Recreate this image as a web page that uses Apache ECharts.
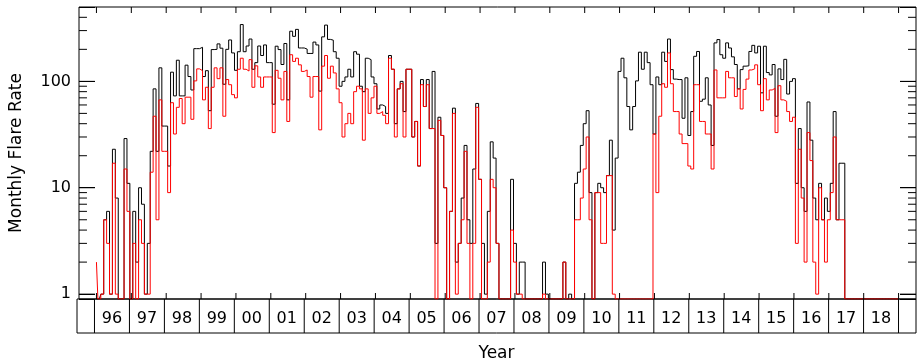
<!DOCTYPE html>
<html><head><meta charset="utf-8">
<script src="https://cdn.jsdelivr.net/npm/echarts@6/dist/echarts.min.js"></script>
<style>html,body{margin:0;padding:0;background:#fff}#c{width:918px;height:364px}</style>
</head><body><div id="c"></div>
<script>
// ---- data (monthly values, Jan 1996 onward) ----
const START_YEAR = 1996;
const X_MIN = 1995.5, X_MAX = 2019.5;
const Y_MIN = 0.9, Y_MAX = 500;

const yearTicks = [1996,1997,1998,1999,2000,2001,2002,2003,2004,2005,2006,2007,2008,2009,2010,2011,2012,2013,2014,2015,2016,2017,2018,2019];
const yearLabels = ['96','97','98','99','00','01','02','03','04','05','06','07','08','09','10','11','12','13','14','15','16','17','18'];
const yMajorTicks = [1,10,100];
const yMinorTicks = [2,3,4,5,6,7,8,9,20,30,40,50,60,70,80,90,200,300,400];

const blackRate = [
  0,0,1,5,6,1,23,8,0,0,29,11,
  0,6,2,10,7,1,3,22,85,22,134,38,
  38,16,122,73,158,73,73,142,111,83,203,203,
  209,111,126,53,199,200,225,205,94,200,245,185,
  127,190,342,190,215,250,130,150,215,175,220,150,
  150,61,214,199,144,227,67,296,265,308,206,206,
  201,183,183,234,220,81,262,338,248,244,190,165,
  90,100,110,130,110,190,180,90,80,165,160,110,
  95,55,60,58,50,175,130,40,85,100,52,130,
  130,30,42,16,104,58,104,36,124,3,46,31,
  10,0,6,56,2,3,8,25,5,3,15,62,
  12,3,1,6,27,19,3,0,0,0,0,12,
  3,1,2,2,0,0,0,0,0,0,2,1,
  0,0,0,0,0,2,0,1,0,11,14,25,
  40,53,9,0,9,11,10,9,13,28,4,19,
  124,165,108,58,35,58,101,188,130,188,150,93,
  32,110,93,188,154,250,129,105,104,104,45,108,
  31,52,172,191,65,68,108,60,25,230,247,178,
  165,230,206,170,144,85,129,139,140,191,218,185,
  214,78,214,121,115,144,47,131,104,161,76,100,
  106,11,36,10,6,64,28,8,5,11,5,8,
  6,11,52,5,17,17,0,0,0,0,0,0,
  0,0,0,0,0,0,0,0,0,0,0,0,
  0
];
const redRate = [
  2,0,1,5,3,1,17,1,0,0,15,6,
  0,3,0,5,3,1,1,14,47,5,67,22,
  22,9,63,32,57,69,40,71,71,44,101,131,
  126,67,88,36,88,134,106,134,47,104,93,75,
  70,130,165,130,125,160,88,140,110,88,110,110,
  110,33,127,107,67,124,42,178,154,165,143,124,
  128,111,71,111,111,35,139,175,107,139,120,85,
  63,30,40,50,40,80,90,85,28,85,50,70,
  90,50,52,48,40,165,130,30,85,95,30,130,
  130,30,42,16,93,58,93,36,36,0,43,31,
  10,0,6,50,1,3,5,22,3,0,3,57,
  12,0,0,2,12,10,3,0,0,0,0,4,
  2,1,1,0,0,0,0,0,0,0,1,0,
  0,0,0,0,0,2,0,0,0,5,5,8,
  15,30,5,0,9,9,3,3,13,13,1,0,
  0,0,0,0,0,0,0,0,0,0,0,0,
  32,9,47,95,88,185,95,52,52,32,26,26,
  16,15,93,93,42,42,32,32,15,128,70,70,
  70,124,108,108,72,85,55,84,105,128,131,143,
  93,53,106,67,83,86,33,91,67,65,52,42,
  46,3,23,8,2,33,18,2,1,10,5,2,
  5,9,30,5,5,5,0,0,0,0,0,0,
  0,0,0,0,0,0,0,0,0,0,0,0,
  0
];

(function () {
  const FONT = 'DejaVu Sans';
  const GRID_LEFT = 77, GRID_TOP = 7, GRID_W = 839, GRID_H = 292, STRIP_H = 34;
  const MAJOR_LEN = 16, MINOR_LEN = 8, XTICK_LEN = 6;
  const xPerPx = (X_MAX - X_MIN) / GRID_W;
  const logPerPx = Math.log10(Y_MAX / Y_MIN) / GRID_H;

  const toPoints = arr => arr.map((v, i) => [START_YEAR + i / 12, v > 0 ? v : Y_MIN]);

  // one small line series per tick / separator, expressed in axis units
  const seg = (pts, xi, yi) => ({type: 'line', xAxisIndex: xi, yAxisIndex: yi, data: pts,
    showSymbol: false, symbol: 'none', lineStyle: {color: '#000', width: 1}, z: 6, silent: true});
  const decor = [];
  yMajorTicks.concat(yMinorTicks).forEach(v => {
    const dx = (yMajorTicks.indexOf(v) >= 0 ? MAJOR_LEN : MINOR_LEN) * xPerPx;
    decor.push(seg([[X_MIN, v], [X_MIN + dx, v]], 0, 0));
    decor.push(seg([[X_MAX - dx, v], [X_MAX, v]], 0, 0));
  });
  const f = Math.pow(10, XTICK_LEN * logPerPx);
  yearTicks.forEach(t => {
    decor.push(seg([[t, Y_MIN], [t, Y_MIN * f]], 0, 0));
    decor.push(seg([[t, Y_MAX / f], [t, Y_MAX]], 0, 0));
    decor.push(seg([[t, 0], [t, 1]], 1, 1));
  });

  const tickAxisCommon = {gridIndex: 0, type: 'log', logBase: 10, min: Y_MIN, max: Y_MAX,
    axisLine: {show: false}, splitLine: {show: false},
    axisTick: {show: true, inside: true, length: MAJOR_LEN, lineStyle: {color: '#000', width: 1}}};

  const chart = echarts.init(document.getElementById('c'), null, {renderer: 'canvas'});
  chart.setOption({
    animation: false,
    backgroundColor: '#fff',
    grid: [
      {left: GRID_LEFT, top: GRID_TOP, width: GRID_W, height: GRID_H, show: true, borderColor: '#000', borderWidth: 1, backgroundColor: 'transparent'},
      {left: GRID_LEFT, top: GRID_TOP + GRID_H, width: GRID_W, height: STRIP_H, show: true, borderColor: '#000', borderWidth: 1, backgroundColor: 'transparent'}
    ],
    xAxis: [
      {gridIndex: 0, type: 'value', min: X_MIN, max: X_MAX, axisLine: {show: false}, axisTick: {show: false}, axisLabel: {show: false}, splitLine: {show: false}},
      {gridIndex: 1, type: 'value', min: X_MIN, max: X_MAX, axisLine: {show: false}, axisTick: {show: false}, axisLabel: {show: false}, splitLine: {show: false},
       name: 'Year', nameLocation: 'middle', nameGap: 12,
       nameTextStyle: {fontFamily: FONT, fontSize: 17, color: '#000', verticalAlign: 'top'}}
    ],
    yAxis: [
      Object.assign({}, tickAxisCommon, {position: 'left',
       axisLabel: {margin: 8, fontFamily: FONT, fontSize: 16, color: '#000',
         formatter: v => { const l = Math.log10(v); return Math.abs(l - Math.round(l)) < 1e-6 ? String(Math.round(v)) : ''; }},
       name: 'Monthly Flare Rate', nameLocation: 'middle', nameGap: 54,
       nameTextStyle: {fontFamily: FONT, fontSize: 17, color: '#000'}}),
      {gridIndex: 1, type: 'value', min: 0, max: 1, show: false},
      Object.assign({}, tickAxisCommon, {position: 'right', axisLabel: {show: false}})
    ],
    series: [
      {type: 'line', name: 'all', xAxisIndex: 0, yAxisIndex: 0, data: toPoints(blackRate), step: 'middle',
       showSymbol: false, symbol: 'none', lineStyle: {color: '#000', width: 1}, clip: true, z: 2, silent: true},
      {type: 'line', name: 'subset', xAxisIndex: 0, yAxisIndex: 0, data: toPoints(redRate), step: 'middle',
       showSymbol: false, symbol: 'none', lineStyle: {color: '#ff0000', width: 1}, clip: true, z: 3, silent: true},
      {type: 'custom', xAxisIndex: 1, yAxisIndex: 1, data: yearLabels.map((s, i) => [yearTicks[i] + 0.5, 0.5]), silent: true, z: 5,
       encode: {x: 0, y: 1},
       renderItem: (params, api) => {
         const p = api.coord([api.value(0), api.value(1)]);
         return {type: 'text', x: p[0], y: p[1] + 3,
           style: {text: yearLabels[params.dataIndex], fontFamily: FONT, fontSize: 16, fill: '#000', align: 'center', verticalAlign: 'middle'}};
       }}
    ].concat(decor)
  });
})();
</script></body></html>
